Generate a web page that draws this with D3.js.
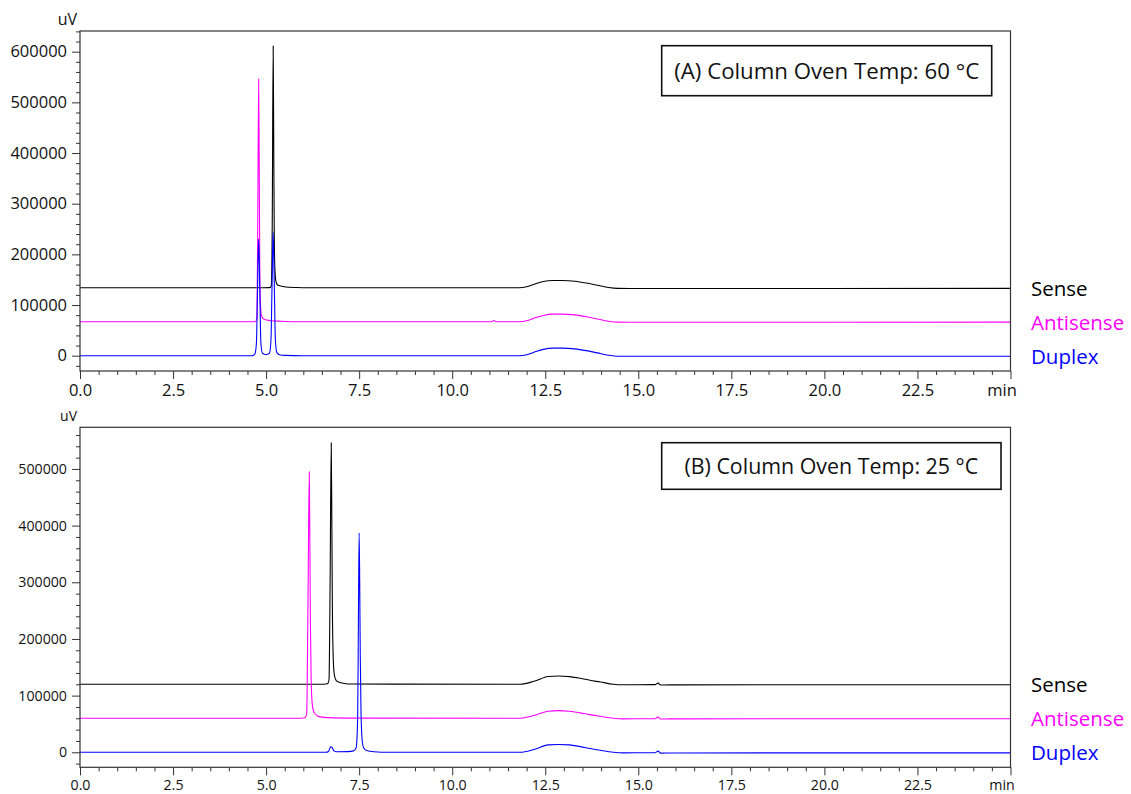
<!DOCTYPE html>
<html>
<head>
<meta charset="utf-8">
<script src="https://cdn.jsdelivr.net/npm/d3@7"></script>
<style>
  html, body { margin: 0; padding: 0; background: #fff; }
  svg { display: block; font-family: "Open Sans", "Noto Sans", sans-serif; }
</style>
</head>
<body>
<svg id="chart" width="1131" height="794"></svg>
<script>
// ---------- DATA ----------
// retention time axis (min)
const xMajorTicks = [0, 2.5, 5, 7.5, 10, 12.5, 15, 17.5, 20, 22.5, 25];
const xUnit = "min";
const yUnit = "uV";
const seriesNames = ["Sense", "Antisense", "Duplex"];
const seriesColors = ["#000000", "#ff00ff", "#0000ff"];
const titles = ["(A) Column Oven Temp: 60 °C", "(B) Column Oven Temp: 25 °C"];
const yMajorTicksA = [0, 100000, 200000, 300000, 400000, 500000, 600000];
const yMajorTicksB = [0, 100000, 200000, 300000, 400000, 500000];

// Panel A (60 °C) traces: [time (min), signal (uV)]
const sense60 = [
  [0,134000],[4.9,134000],[5.10,134300],[5.14,138000],[5.165,260000],[5.19,611000],[5.205,420000],
  [5.22,230000],[5.24,165000],[5.27,145000],[5.32,139000],[5.45,136500],[5.6,135000],[6.0,134200],
  [11.8,134000],[12.0,136000],[12.2,141000],[12.45,146500],[12.7,148500],[12.95,148500],[13.3,147000],
  [13.6,143500],[13.9,139000],[14.2,134500],[14.45,132800],[15.0,132600],[25,132800]
];
const anti60 = [
  [0,67000],[4.65,67000],[4.72,67500],[4.75,75000],[4.775,250000],[4.80,546000],[4.815,380000],
  [4.83,180000],[4.85,100000],[4.88,78000],[4.95,72000],[5.1,69500],[5.4,68000],[6,67000],
  [11.05,67000],[11.12,69500],[11.18,67000],[11.8,67000],[12.0,69000],[12.2,74000],[12.45,79500],
  [12.7,82000],[12.95,82000],[13.3,80500],[13.6,77000],[13.9,72500],[14.2,68000],[14.45,66200],
  [15,66000],[25,66200]
];
const dup60 = [
  [0,0],[4.6,0],[4.66,1000],[4.70,3500],[4.74,25000],[4.77,130000],[4.80,230000],[4.83,130000],
  [4.86,25000],[4.90,5000],[4.97,2500],[5.04,3000],[5.09,5000],[5.13,30000],[5.16,140000],
  [5.19,244000],[5.22,140000],[5.25,30000],[5.29,6000],[5.36,2000],[5.5,600],[6,0],
  [11.8,0],[12.0,2000],[12.2,7000],[12.45,12500],[12.7,15000],[12.95,15000],[13.3,13500],
  [13.6,10000],[13.9,5500],[14.2,1000],[14.45,-1000],[15,-1200],[25,-1000]
];

// Panel B (25 °C) traces: [time (min), signal (uV)]
const sense25 = [
  [0,120000],[6.55,120000],[6.65,120800],[6.69,128000],[6.72,300000],[6.75,546000],[6.765,420000],
  [6.78,260000],[6.80,175000],[6.83,138000],[6.88,127000],[6.96,123500],[7.1,121500],[7.3,120500],
  [11.83,120000],[12.2,125300],[12.58,133600],[12.85,134700],[13.15,133500],[13.44,130600],
  [13.7,127000],[13.98,124000],[14.33,120000],[14.6,119100],[15.45,119400],[15.53,122000],
  [15.6,118800],[16,119000],[25,119200]
];
const anti25 = [
  [0,60000],[5.95,60000],[6.04,60800],[6.09,68000],[6.125,260000],[6.16,495000],[6.175,380000],
  [6.19,230000],[6.21,130000],[6.24,85000],[6.29,70000],[6.37,64500],[6.5,62000],[6.8,60800],
  [7.5,60200],[11.83,60000],[12.2,65000],[12.58,72500],[12.85,73600],[13.15,72500],[13.44,69600],
  [13.7,66500],[13.98,63500],[14.33,60000],[14.6,59000],[15.45,59300],[15.53,62000],[15.6,58800],
  [16,59000],[25,59200]
];
const dup25 = [
  [0,0],[6.6,0],[6.68,1500],[6.73,9500],[6.77,9000],[6.82,2500],[6.9,1000],[7.2,1200],[7.35,2500],
  [7.42,8000],[7.46,60000],[7.48,230000],[7.50,387000],[7.515,300000],[7.53,170000],[7.55,70000],
  [7.58,22000],[7.62,8000],[7.7,3000],[7.9,1000],[8.3,0],[11.83,0],[12.2,5000],[12.58,13000],
  [12.85,13800],[13.15,13000],[13.44,10000],[13.7,6800],[13.98,3500],[14.33,0],[14.6,-1000],
  [15.45,-700],[15.53,2000],[15.6,-1500],[16,-1200],[25,-1000]
];

// ---------- LAYOUT ----------
const panels = [
  { top: 31, bottom: 371, yDomain: [-30200, 640800], yMajors: yMajorTicksA, minorMax: 640000,
    tickFont: 16.5, unitFont: 16, traces: [sense60, anti60, dup60], title: titles[0],
    box: { x: 661.7, y: 45.7, w: 330, h: 50 }, titleWidth: 305 },
  { top: 427.3, bottom: 767.3, yDomain: [-26500, 573500], yMajors: yMajorTicksB, minorMax: 560000,
    tickFont: 14.2, unitFont: 14, traces: [sense25, anti25, dup25], title: titles[1],
    box: { x: 661.7, y: 442.7, w: 339.3, h: 46.6 }, titleWidth: 294 }
];
const left = 80, right = 1010.5;
const axisColor = "#333";

const svg = d3.select("#chart");
const x = d3.scaleLinear().domain([0, 25]).range([left, right]);
const xMinors = d3.range(0, 25.001, 0.5).filter(v => Math.abs(v / 2.5 - Math.round(v / 2.5)) > 1e-6);

panels.forEach(p => {
  const g = svg.append("g");
  const y = d3.scaleLinear().domain(p.yDomain).range([p.bottom, p.top]);

  // traces
  const line = d3.line().x(d => x(d[0])).y(d => y(d[1])).curve(d3.curveMonotoneX);
  p.traces.forEach((tr, i) => {
    g.append("path").datum(tr)
      .attr("fill", "none")
      .attr("stroke", seriesColors[i])
      .attr("stroke-width", 1.1)
      .attr("d", line);
  });

  // frame
  g.append("rect")
    .attr("x", left).attr("y", p.top)
    .attr("width", right - left).attr("height", p.bottom - p.top)
    .attr("fill", "none").attr("stroke", axisColor).attr("stroke-width", 1.2);

  // y axis minor
  const yMinors = d3.range(-20000, p.minorMax + 1, 20000).filter(v => v % 100000 !== 0);
  const yMinorAxis = g.append("g").attr("transform", `translate(${left},0)`)
    .call(d3.axisLeft(y).tickValues(yMinors).tickSize(4).tickSizeOuter(0).tickFormat(""));
  yMinorAxis.select(".domain").remove();
  // y axis major
  const yAxis = g.append("g").attr("transform", `translate(${left},0)`)
    .call(d3.axisLeft(y).tickValues(p.yMajors).tickSize(8).tickPadding(5).tickSizeOuter(0)
      .tickFormat(d3.format("d")));
  yAxis.select(".domain").remove();
  yAxis.selectAll("text").attr("font-size", p.tickFont).attr("fill", "#111")
    .attr("font-family", "'Open Sans', sans-serif");

  // x axis minor
  const xMinorAxis = g.append("g").attr("transform", `translate(0,${p.bottom})`)
    .call(d3.axisBottom(x).tickValues(xMinors).tickSize(4).tickSizeOuter(0).tickFormat(""));
  xMinorAxis.select(".domain").remove();
  const xAxis = g.append("g").attr("transform", `translate(0,${p.bottom})`)
    .call(d3.axisBottom(x).tickValues(xMajorTicks).tickSize(8).tickPadding(5).tickSizeOuter(0)
      .tickFormat(d => d === 25 ? xUnit : d3.format(".1f")(d)));
  xAxis.select(".domain").remove();
  xAxis.selectAll("text").attr("font-size", p.tickFont).attr("fill", "#111")
    .attr("font-family", "'Open Sans', sans-serif")
    .attr("dx", d => d === 25 ? -9 : 0);

  [yMinorAxis, yAxis, xMinorAxis, xAxis].forEach(a => a.selectAll("line").attr("stroke", axisColor));

  // unit label
  g.append("text")
    .attr("x", left - 3).attr("y", p.top - 6)
    .attr("text-anchor", "end")
    .attr("font-size", p.unitFont).attr("fill", "#111")
    .text(yUnit);

  // title box
  g.append("rect")
    .attr("x", p.box.x).attr("y", p.box.y).attr("width", p.box.w).attr("height", p.box.h)
    .attr("fill", "#fff").attr("stroke", "#111").attr("stroke-width", 1.6);
  const t = g.append("text")
    .attr("x", p.box.x + p.box.w / 2).attr("y", p.box.y + p.box.h / 2)
    .attr("text-anchor", "middle").attr("dy", "0.36em")
    .attr("font-size", 20).attr("fill", "#111")
    .text(p.title);
  const w0 = t.node().getComputedTextLength();
  t.attr("font-size", 20 * p.titleWidth / w0);

  // series labels to the right
  p.traces.forEach((tr, i) => {
    const last = tr[tr.length - 1];
    g.append("text")
      .attr("x", 1031).attr("y", y(last[1]) + 7.5)
      .attr("font-size", 20.5).attr("fill", seriesColors[i])
      .text(seriesNames[i]);
  });
});
</script>
</body>
</html>
